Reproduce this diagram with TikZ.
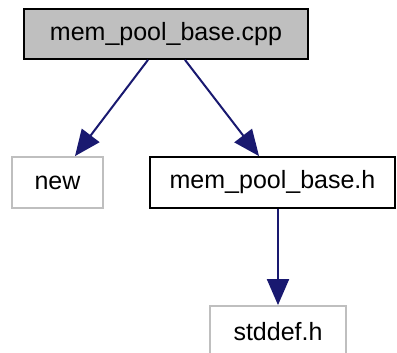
\documentclass[tikz,border=0pt]{standalone}
\usepackage{fontspec}
\setmainfont{Liberation Sans}
\usetikzlibrary{arrows.meta}
\definecolor{edgeblue}{HTML}{191970}
\definecolor{fillgray}{HTML}{BFBFBF}
\definecolor{bordergray}{HTML}{BFBFBF}
\begin{document}
\begin{tikzpicture}[x=1pt,y=-1pt,
  box/.style={draw, line width=1.8pt, inner sep=0pt, font=\fontsize{25}{30}\selectfont, anchor=center},
  grayed/.style={box, draw=bordergray, line width=1.8pt},
  edge/.style={draw=edgeblue, line width=2pt, -{Triangle[length=26pt,width=22pt]}, fill=edgeblue}]
\useasboundingbox (0,0) rectangle (397,353);
\node[box, fill=fillgray, minimum width=284pt, minimum height=50pt] (cpp) at (166,34) {mem\_pool\_base.cpp};
\node[grayed, minimum width=91pt, minimum height=51pt] (new) at (57.5,182.5) {new};
\node[box, minimum width=245pt, minimum height=51pt] (h) at (272.5,182.5) {mem\_pool\_base.h};
\node[grayed, minimum width=136pt, minimum height=51pt] (std) at (278,331.5) {stddef.h};
\draw[edge] (cpp.south -| 148,0) -- (new.north -| 75,0);
\draw[edge] (cpp.south -| 185,0) -- (h.north -| 259,0);
\draw[edge] (h.south -| 278,0) -- (std.north);
\end{tikzpicture}
\end{document}
